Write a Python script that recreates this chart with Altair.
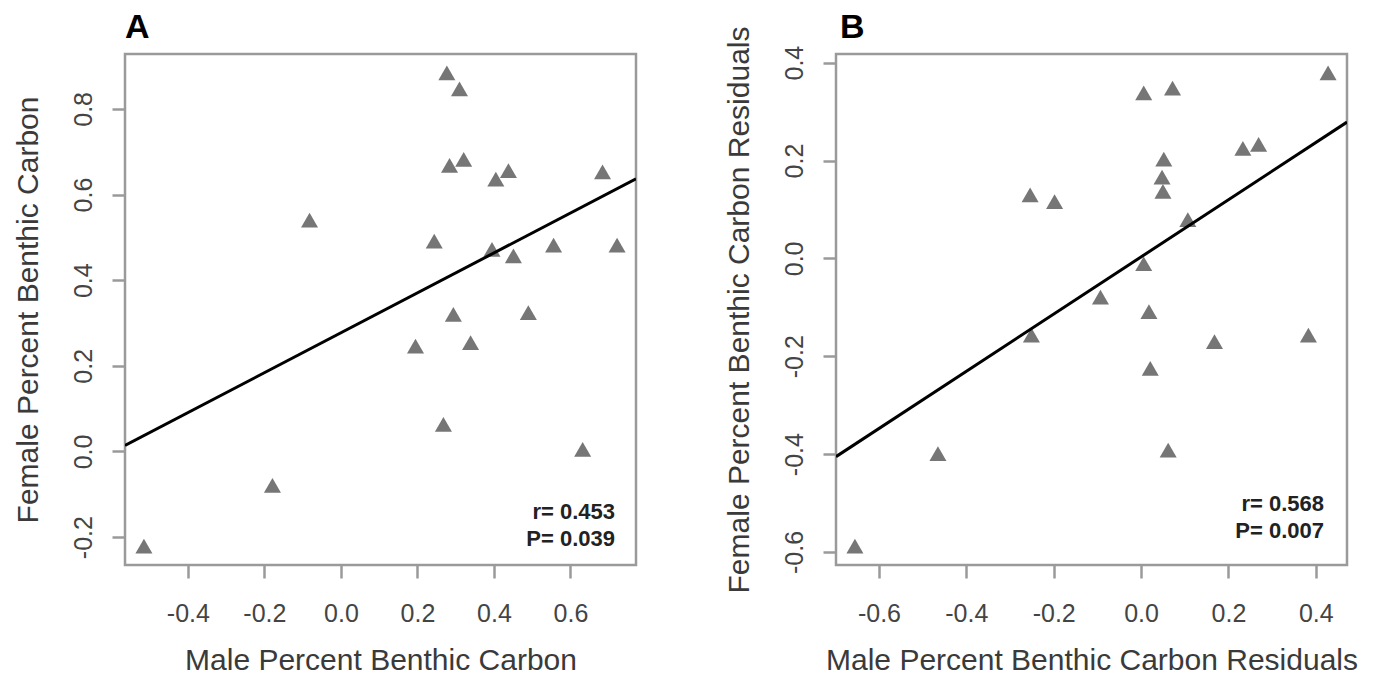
import altair as alt
import pandas as pd

# ---------------- data ----------------
# Panel A
a_male = [0.277, 0.310, 0.284, 0.321, 0.438, 0.405, 0.684, -0.082, 0.244, 0.395, 0.451,
          0.556, 0.722, 0.294, 0.490, 0.195, 0.339, 0.268, 0.632, -0.179, -0.515]
a_female = [0.884, 0.847, 0.668, 0.682, 0.656, 0.636, 0.653, 0.540, 0.491, 0.472, 0.457,
            0.482, 0.482, 0.320, 0.324, 0.246, 0.254, 0.063, 0.005, -0.079, -0.221]
a_xticks = [-0.4, -0.2, 0.0, 0.2, 0.4, 0.6]
a_yticks = [-0.2, 0.0, 0.2, 0.4, 0.6, 0.8]
a_stats = ["r= 0.453", "P= 0.039"]

# Panel B
b_male = [0.428, 0.006, 0.072, 0.233, 0.269, 0.052, 0.048, 0.050, -0.254, -0.198, 0.107,
          0.006, -0.093, 0.018, -0.251, 0.168, 0.383, 0.021, -0.465, 0.062, -0.655]
b_female = [0.379, 0.338, 0.348, 0.225, 0.233, 0.203, 0.166, 0.137, 0.130, 0.116, 0.079,
            -0.011, -0.079, -0.109, -0.157, -0.170, -0.157, -0.225, -0.399, -0.392, -0.588]
b_xticks = [-0.6, -0.4, -0.2, 0.0, 0.2, 0.4]
b_yticks = [-0.6, -0.4, -0.2, 0.0, 0.2, 0.4]
b_stats = ["r= 0.568", "P= 0.007"]

FONT = "Liberation Sans"
W, H = 511, 511
LABEL_EXPR = "replace(format(datum.value, '.1f'), '\u2212', '-')"


def rdomain(v):
    lo, hi = min(v), max(v)
    pad = 0.04 * (hi - lo)
    return [lo - pad, hi + pad]


def panel(xs, ys, xticks, yticks, xtitle, ytitle, letter, stats, letter_dx, stats_dx, stats_y):
    df = pd.DataFrame({"x": xs, "y": ys})
    xdom = rdomain(xs)
    ydom = rdomain(ys)
    xenc = alt.X("x:Q", scale=alt.Scale(domain=xdom, nice=False, zero=False),
                 axis=alt.Axis(values=xticks, title=xtitle, labelExpr=LABEL_EXPR))
    yenc = alt.Y("y:Q", scale=alt.Scale(domain=ydom, nice=False, zero=False),
                 axis=alt.Axis(values=yticks, title=ytitle, labelExpr=LABEL_EXPR))
    base = alt.Chart(df)
    pts = base.mark_point(shape="triangle-up", filled=True, size=290,
                          color="#767676", opacity=1).encode(x=xenc, y=yenc)
    line = base.transform_regression("x", "y", extent=xdom).mark_line(
        color="black", strokeWidth=3, clip=True).encode(x="x:Q", y="y:Q")
    ann = alt.Chart(pd.DataFrame({"t": ["\n".join(stats)]})).mark_text(
        align="right", baseline="alphabetic", font=FONT, fontSize=22, fontWeight="bold",
        color="#222222", lineBreak="\n", lineHeight=27
    ).encode(x=alt.value(W - stats_dx), y=alt.value(stats_y), text="t:N")
    lab = alt.Chart(pd.DataFrame({"t": [letter]})).mark_text(
        align="left", baseline="alphabetic", font=FONT, fontSize=34, fontWeight="bold",
        color="black"
    ).encode(x=alt.value(letter_dx), y=alt.value(-16), text="t:N")
    return alt.layer(pts, line, ann, lab).properties(width=W, height=H)


chart_a = panel(a_male, a_female, a_xticks, a_yticks,
                "Male Percent Benthic Carbon", "Female Percent Benthic Carbon",
                "A", a_stats, 0, 21, 465)
chart_b = panel(b_male, b_female, b_xticks, b_yticks,
                "Male Percent Benthic Carbon Residuals",
                "Female Percent Benthic Carbon Residuals",
                "B", b_stats, 4, 23, 457)

chart = alt.hconcat(chart_a, chart_b, spacing=200, bounds="flush").properties(
    padding={"left": 3, "top": 1, "right": 5, "bottom": 0}
).configure_view(
    stroke="#9a9a9a", strokeWidth=2.5
).configure_axis(
    grid=False, domain=False,
    labelFont=FONT, titleFont=FONT,
    labelFontSize=25, titleFontSize=30,
    labelColor="#444444", titleColor="#3a3a3a",
    titleFontWeight="normal",
    tickColor="#9a9a9a", tickWidth=2.5, tickSize=13,
).configure_axisX(
    labelPadding=23, titlePadding=19
).configure_axisY(
    labelAngle=270, labelAlign="center", labelBaseline="bottom",
    labelPadding=16, titlePadding=28
)

chart.save("out.html", embed_options={"renderer": "svg", "actions": False})
